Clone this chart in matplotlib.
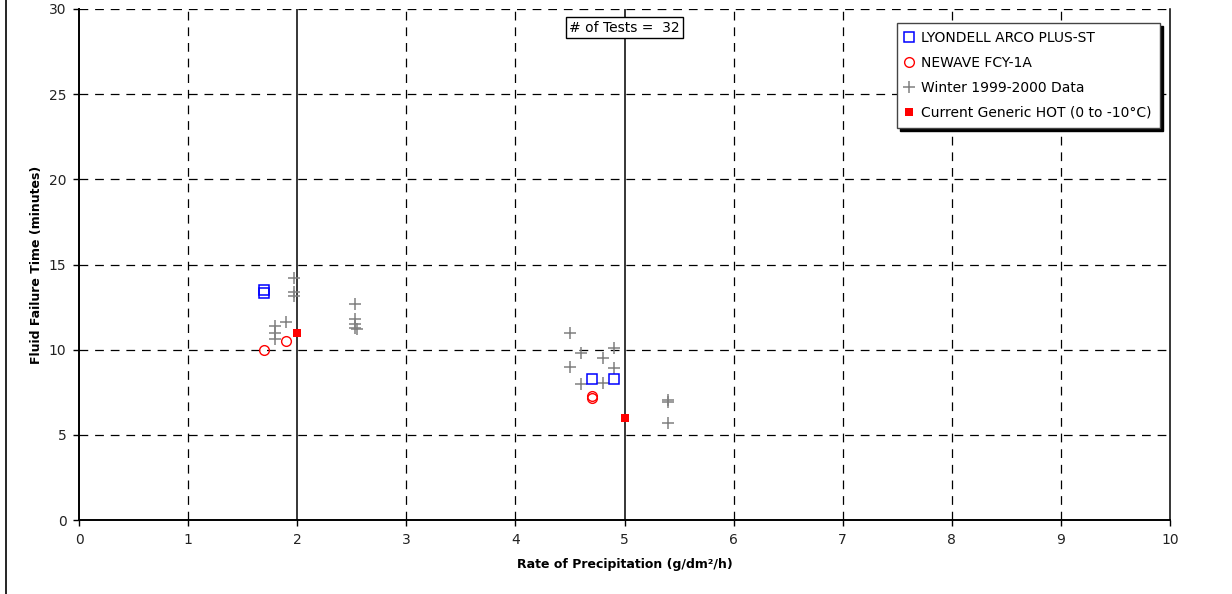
import matplotlib
matplotlib.use("Agg")
import matplotlib.pyplot as plt
from matplotlib.lines import Line2D

plt.rcParams['font.family'] = ['DejaVu Sans']

# LYONDELL ARCO PLUS-ST
lyondell_x = [1.7, 1.7, 4.7, 4.9]
lyondell_y = [13.5, 13.3, 8.3, 8.3]

# NEWAVE FCY-1A
newave_x = [1.7, 1.9, 4.7, 4.7]
newave_y = [10.0, 10.5, 7.3, 7.15]

# Winter 1999-2000 data
winter_x = [1.97, 1.97, 1.97, 1.9, 1.8, 1.8, 1.8,
            2.53, 2.53, 2.53, 2.53, 2.55,
            4.5, 4.6, 4.9, 4.8, 4.5, 4.9, 4.6, 4.8,
            5.4, 5.4, 5.4]
winter_y = [14.2, 13.4, 13.15, 11.6, 11.4, 11.0, 10.6,
            12.7, 11.8, 11.5, 11.3, 11.2,
            11.0, 9.8, 10.1, 9.5, 9.0, 8.9, 8.0, 8.05,
            7.05, 6.9, 5.7]

# Current Generic HOT (0 to -10°C)
generic_x = [2.0, 5.0]
generic_y = [11.0, 6.0]

n_tests = 32

fig = plt.figure(figsize=(12.32, 5.94), dpi=100)
ax = fig.add_axes([79 / 1232, 1 - 520 / 594, (1170 - 79) / 1232, (520 - 9) / 594])

# dashed grid, solid reference lines at 2 and 5
dash = (0, (7, 5.5))
for gx in [1, 3, 4, 6, 7, 8, 9]:
    ax.axvline(gx, color='black', lw=0.9, ls=dash, zorder=1)
for gy in [5, 10, 15, 20, 25, 30]:
    ax.axhline(gy, color='black', lw=0.9, ls=dash, zorder=1)
ax.axvline(2, color='black', lw=1.1, zorder=1)
ax.axvline(5, color='black', lw=1.1, zorder=1)

ax.plot(winter_x, winter_y, ls='none', marker='+', ms=8, mew=1.1,
        color='#808080', label='Winter 1999-2000 Data', zorder=3)
ax.plot(lyondell_x, lyondell_y, ls='none', marker='s', ms=6.5, mew=1.1,
        mfc='none', mec='#0000ff', label='LYONDELL ARCO PLUS-ST', zorder=4)
ax.plot(newave_x, newave_y, ls='none', marker='o', ms=7, mew=1.0,
        mfc='none', mec='#ff0000', label='NEWAVE FCY-1A', zorder=4)
ax.plot(generic_x, generic_y, ls='none', marker='s', ms=6, mew=0,
        color='#ff0000', label='Current Generic HOT (0 to -10°C)', zorder=5)

ax.set_xlim(0, 10)
ax.set_ylim(0, 30)
ax.set_xticks(range(0, 11))
ax.set_yticks(range(0, 31, 5))
ax.tick_params(direction='out', length=4, width=1, labelsize=10,
               labelcolor='#222222', pad=5)

ax.spines['top'].set_visible(False)
ax.spines['left'].set_linewidth(1.4)
ax.spines['bottom'].set_linewidth(1.4)
ax.spines['right'].set_linewidth(1.1)

ax.set_xlabel('Rate of Precipitation (g/dm²/h)', fontsize=9, fontweight='bold',
              labelpad=8)
ax.set_ylabel('Fluid Failure Time (minutes)', fontsize=9, fontweight='bold',
              labelpad=4)

ax.text(5, 28.9, f'# of Tests =  {n_tests}', ha='center', va='center',
        fontsize=10, zorder=6,
        bbox=dict(boxstyle='square,pad=0.25', facecolor='white',
                  edgecolor='black', lw=1))

handles, labels = ax.get_legend_handles_labels()
order = [1, 2, 0, 3]
leg = ax.legend([handles[i] for i in order], [labels[i] for i in order],
                loc='upper right', bbox_to_anchor=((1160 - 79) / 1091, (520 - 23) / 511),
                fontsize=10, frameon=True, fancybox=False, handlelength=0.6,
                handletextpad=0.55, labelspacing=0.78, borderpad=0.6,
                borderaxespad=0,
                shadow={'color': 'black', 'alpha': 1, 'ox': 2, 'oy': -2})
leg.get_frame().set_edgecolor('#444444')
leg.get_frame().set_linewidth(1)
leg.set_zorder(7)

# left edge of the chart frame
fig.add_artist(Line2D([6 / 1232, 6 / 1232], [0, 1], color='black', lw=1.2))

fig.savefig('out.png', dpi=100)
